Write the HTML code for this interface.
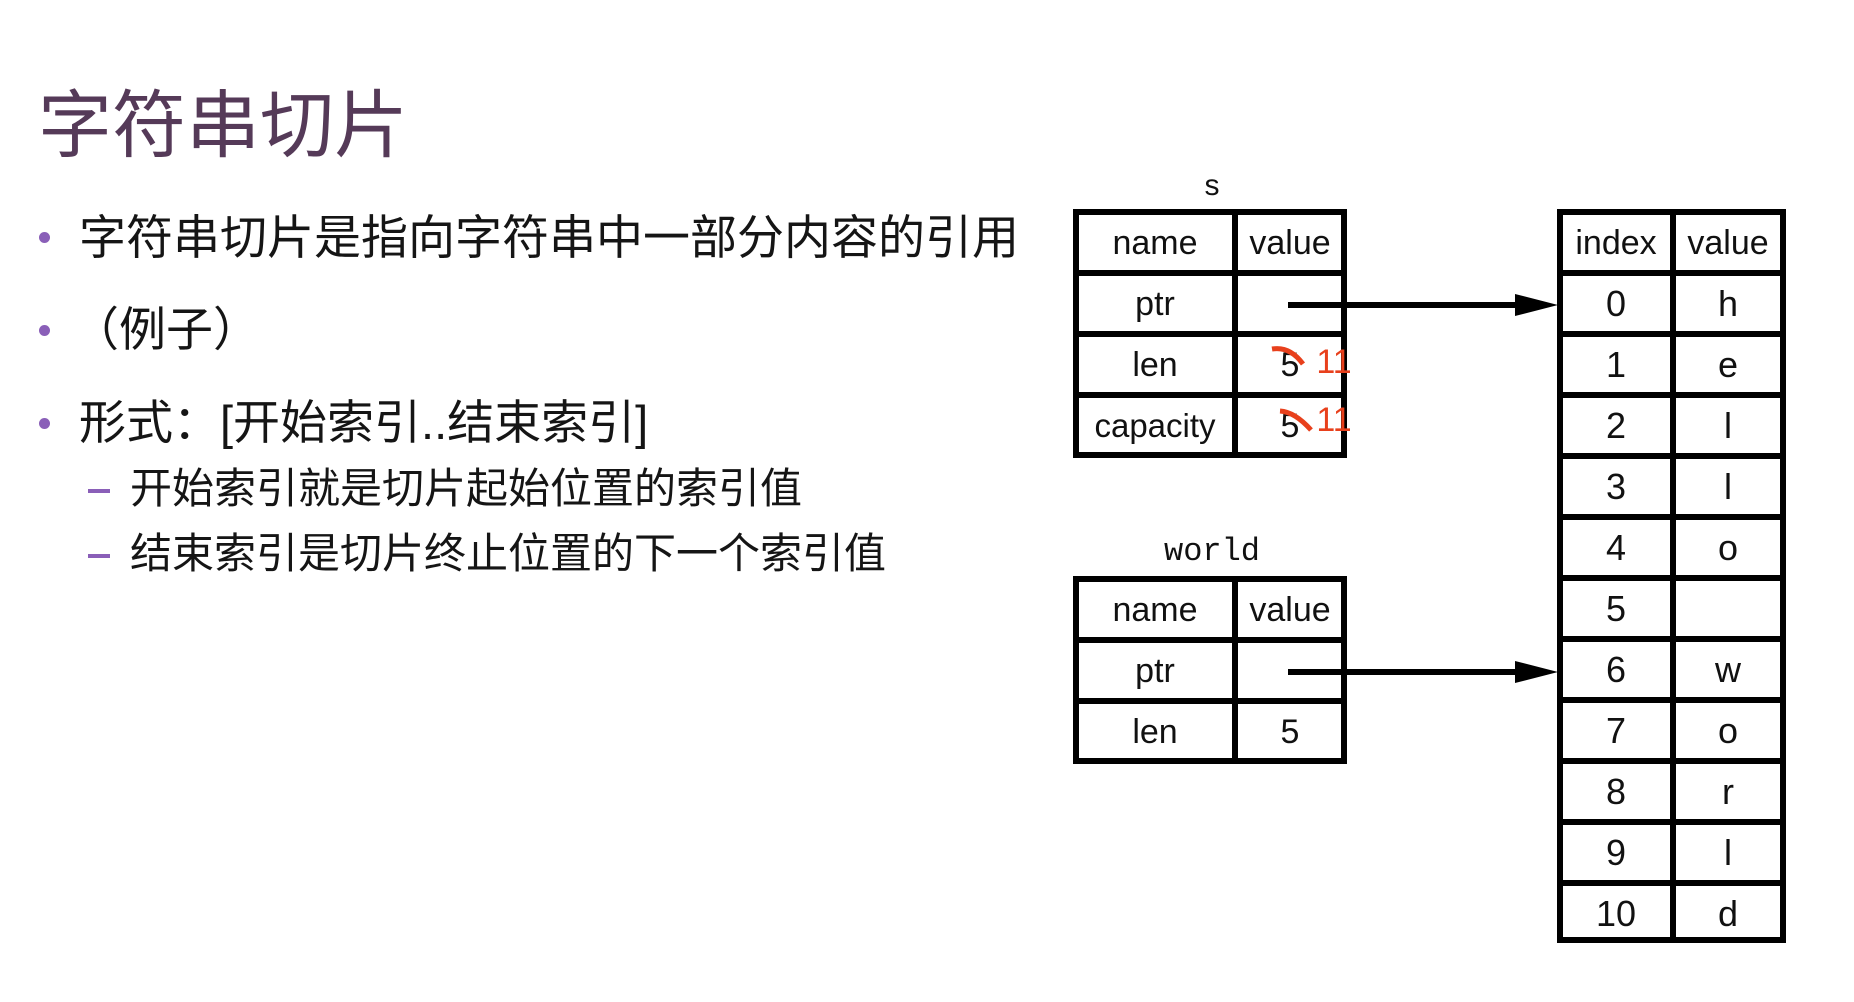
<!DOCTYPE html>
<html><head><meta charset="utf-8"><style>
body{margin:0;width:1854px;height:1002px;background:#fff;overflow:hidden;position:relative;font-family:"Liberation Sans","Noto Sans CJK SC",sans-serif;}
.t{position:absolute;white-space:nowrap;color:#151515;}
.title{left:38px;top:81px;font-size:74px;color:#553a58;line-height:90px;}
.b{font-size:47px;line-height:60px;left:79px;}
.dot{position:absolute;width:11px;height:11px;border-radius:50%;background:#8a5fb8;left:39px;}
.s{font-size:42px;line-height:52px;left:130px;}
.dash{position:absolute;left:88px;width:22px;height:4px;background:#8a5fb8;}
svg{position:absolute;left:0;top:0;}
</style></head><body>
<div class="t title">字符串切片</div>
<div class="dot" style="top:232px"></div><div class="t b" style="top:208px">字符串切片是指向字符串中一部分内容的引用</div>
<div class="dot" style="top:325px"></div><div class="t b" style="top:300px;left:72px">（例子）</div>
<div class="dot" style="top:418px"></div><div class="t b" style="top:393px">形式：[开始索引..结束索引]</div>
<div class="dash" style="top:489px"></div><div class="t s" style="top:463px">开始索引就是切片起始位置的索引值</div>
<div class="dash" style="top:554px"></div><div class="t s" style="top:528px">结束索引是切片终止位置的下一个索引值</div>
<svg width="1854" height="1002" font-family="Liberation Sans, sans-serif" font-size="34" fill="#111" text-anchor="middle">
<g stroke="#000" stroke-width="6" fill="none">
<rect x="1076" y="212" width="268" height="243"/>
<line x1="1235" y1="212" x2="1235" y2="455"/>
<line x1="1076" y1="273" x2="1344" y2="273"/>
<line x1="1076" y1="334" x2="1344" y2="334"/>
<line x1="1076" y1="395" x2="1344" y2="395"/>
<rect x="1076" y="579" width="268" height="182"/>
<line x1="1235" y1="579" x2="1235" y2="761"/>
<line x1="1076" y1="640" x2="1344" y2="640"/>
<line x1="1076" y1="701" x2="1344" y2="701"/>
<rect x="1560" y="212" width="223" height="728"/>
<line x1="1673" y1="212" x2="1673" y2="940"/>
<line x1="1560" y1="273" x2="1783" y2="273"/><line x1="1560" y1="334" x2="1783" y2="334"/>
<line x1="1560" y1="395" x2="1783" y2="395"/><line x1="1560" y1="456" x2="1783" y2="456"/>
<line x1="1560" y1="517" x2="1783" y2="517"/><line x1="1560" y1="578" x2="1783" y2="578"/>
<line x1="1560" y1="639" x2="1783" y2="639"/><line x1="1560" y1="700" x2="1783" y2="700"/>
<line x1="1560" y1="761" x2="1783" y2="761"/><line x1="1560" y1="822" x2="1783" y2="822"/>
<line x1="1560" y1="883" x2="1783" y2="883"/>
<line x1="1288" y1="305" x2="1520" y2="305"/>
<line x1="1288" y1="672" x2="1520" y2="672"/>
</g>
<polygon points="1515,294 1558,305 1515,316" fill="#000"/>
<polygon points="1515,661 1558,672 1515,683" fill="#000"/>
<text x="1212" y="195" font-size="30">s</text>
<text x="1212" y="560" font-family="Liberation Mono, monospace" font-size="32">world</text>
<text x="1155" y="254">name</text><text x="1290" y="254">value</text>
<text x="1155" y="315">ptr</text>
<text x="1155" y="376">len</text><text x="1290" y="376">5</text>
<text x="1155" y="437" font-size="33">capacity</text><text x="1290" y="437">5</text>
<text x="1334" y="373" fill="#e8401c" font-size="34">11</text>
<text x="1334" y="431" fill="#e8401c" font-size="34">11</text>
<path d="M1272,349 Q1290,346 1303,364" stroke="#e8401c" stroke-width="5" fill="none"/>
<path d="M1280,411 Q1295,412 1311,430" stroke="#e8401c" stroke-width="5" fill="none"/>
<text x="1155" y="621">name</text><text x="1290" y="621">value</text>
<text x="1155" y="682">ptr</text>
<text x="1155" y="743">len</text><text x="1290" y="743">5</text>
<text x="1616" y="254">index</text><text x="1728" y="254">value</text>
<g font-size="36">
<text x="1616" y="316">0</text><text x="1728" y="316">h</text>
<text x="1616" y="377">1</text><text x="1728" y="377">e</text>
<text x="1616" y="438">2</text><text x="1728" y="438">l</text>
<text x="1616" y="499">3</text><text x="1728" y="499">l</text>
<text x="1616" y="560">4</text><text x="1728" y="560">o</text>
<text x="1616" y="621">5</text>
<text x="1616" y="682">6</text><text x="1728" y="682">w</text>
<text x="1616" y="743">7</text><text x="1728" y="743">o</text>
<text x="1616" y="804">8</text><text x="1728" y="804">r</text>
<text x="1616" y="865">9</text><text x="1728" y="865">l</text>
<text x="1616" y="926">10</text><text x="1728" y="926">d</text>
</g>
</svg>
</body></html>
